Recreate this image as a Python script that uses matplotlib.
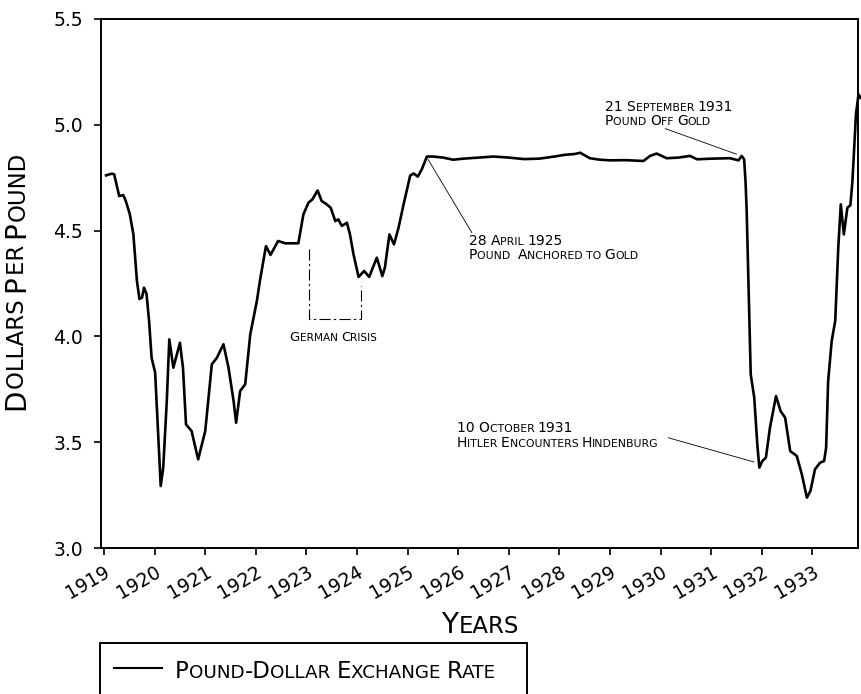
import numpy as np
import matplotlib
matplotlib.use("Agg")
import matplotlib.pyplot as plt
from matplotlib.font_manager import FontProperties
from matplotlib.transforms import offset_copy
from matplotlib.patches import Rectangle
from matplotlib.lines import Line2D

FONT = "DejaVu Sans"
plt.rcParams["font.family"] = FONT

# pound-dollar rate (year fraction, $ per pound)
years = [
    1919.04, 1919.15, 1919.20, 1919.30, 1919.38, 1919.43, 1919.51, 1919.58, 1919.65,
    1919.70, 1919.75, 1919.79, 1919.84, 1919.89, 1919.94, 1920.01, 1920.12, 1920.17,
    1920.24, 1920.29, 1920.37, 1920.50, 1920.56, 1920.62, 1920.73, 1920.86, 1921.00,
    1921.13, 1921.23, 1921.36, 1921.46, 1921.56, 1921.61, 1921.69, 1921.79, 1921.89,
    1922.02, 1922.08, 1922.20, 1922.29, 1922.44, 1922.58, 1922.84, 1922.94, 1923.04,
    1923.12, 1923.22, 1923.30, 1923.40, 1923.48, 1923.57, 1923.63, 1923.70, 1923.80,
    1923.86, 1923.93, 1924.03, 1924.14, 1924.24, 1924.39, 1924.50, 1924.55, 1924.64,
    1924.73, 1924.82, 1924.92, 1925.05, 1925.12, 1925.20, 1925.28, 1925.38, 1925.50,
    1925.70, 1925.90, 1926.10, 1926.40, 1926.70, 1927.00, 1927.30, 1927.60, 1927.90,
    1928.10, 1928.30, 1928.41, 1928.60, 1928.80, 1929.00, 1929.30, 1929.66, 1929.79,
    1929.92, 1930.12, 1930.35, 1930.58, 1930.72, 1931.00, 1931.37, 1931.54, 1931.60,
    1931.65, 1931.68, 1931.70, 1931.75, 1931.78, 1931.85, 1931.91, 1931.95, 1932.01,
    1932.08, 1932.16, 1932.28, 1932.37, 1932.46, 1932.56, 1932.69, 1932.79, 1932.89,
    1932.96, 1933.05, 1933.15, 1933.23, 1933.27, 1933.31, 1933.38, 1933.45, 1933.51,
    1933.56, 1933.62, 1933.69, 1933.75, 1933.79, 1933.86, 1933.91, 1933.95,
]
rates = [
    4.761, 4.769, 4.766, 4.663, 4.668, 4.640, 4.577, 4.482, 4.262,
    4.177, 4.183, 4.230, 4.200, 4.073, 3.899, 3.829, 3.293, 3.380,
    3.695, 3.986, 3.852, 3.970, 3.852, 3.584, 3.553, 3.419, 3.553,
    3.868, 3.899, 3.963, 3.852, 3.695, 3.592, 3.742, 3.774, 4.010,
    4.167, 4.262, 4.427, 4.385, 4.451, 4.440, 4.440, 4.577, 4.632,
    4.648, 4.690, 4.640, 4.624, 4.608, 4.545, 4.553, 4.522, 4.537,
    4.482, 4.388, 4.281, 4.309, 4.281, 4.372, 4.285, 4.325, 4.482,
    4.435, 4.514, 4.624, 4.760, 4.770, 4.755, 4.790, 4.850, 4.850,
    4.845, 4.835, 4.840, 4.845, 4.850, 4.845, 4.838, 4.840, 4.850,
    4.858, 4.862, 4.868, 4.842, 4.835, 4.832, 4.833, 4.829, 4.853,
    4.864, 4.842, 4.845, 4.853, 4.837, 4.840, 4.842, 4.832, 4.853,
    4.837, 4.720, 4.593, 4.104, 3.821, 3.710, 3.490, 3.380, 3.411,
    3.427, 3.569, 3.718, 3.647, 3.616, 3.458, 3.435, 3.348, 3.238,
    3.270, 3.372, 3.403, 3.411, 3.474, 3.789, 3.978, 4.073, 4.419,
    4.624, 4.482, 4.608, 4.620, 4.734, 5.050, 5.144, 5.128,
]

year_ticks = list(range(1919, 1934))
rate_ticks = [3.0, 3.5, 4.0, 4.5, 5.0, 5.5]


def small_caps(ax, x, y, s, size, transform=None, rotation=0, ha="left", ratio=0.8):
    """Fake small caps: lower-case letters drawn as smaller capitals."""
    fig = ax.figure
    renderer = fig.canvas.get_renderer()
    if transform is None:
        transform = ax.transData
    runs = []
    for ch in s:
        small = ch.islower() if ch != " " else (runs[-1][1] if runs else False)
        if runs and runs[-1][1] == small:
            runs[-1][0] += ch
        else:
            runs.append([ch, small])
    pieces = [(t.upper(), size * ratio if sm else size) for t, sm in runs]

    def advance(t, fs):
        prop = FontProperties(family=FONT, size=fs)
        bar = renderer.get_text_width_height_descent("|", prop, ismath=False)[0]
        return renderer.get_text_width_height_descent(t + "|", prop, ismath=False)[0] - bar

    widths = [advance(t, fs) for t, fs in pieces]
    total = sum(widths)
    pos = {"left": 0.0, "center": -total / 2, "right": -total}[ha]
    c, s_ = np.cos(np.radians(rotation)), np.sin(np.radians(rotation))
    for (t, fs), w in zip(pieces, widths):
        tr = offset_copy(transform, fig=fig, x=pos * c, y=pos * s_, units="dots")
        ax.text(x, y, t, fontsize=fs, family=FONT, rotation=rotation,
                rotation_mode="anchor", ha="left", va="baseline", transform=tr,
                clip_on=False)
        pos += w


fig = plt.figure(figsize=(8.61, 6.94), dpi=100)
ax = fig.add_axes([101 / 861, 146 / 694, 757 / 861, 529 / 694])

ax.plot(years, rates, color="black", lw=1.9, clip_on=False,
        label="Pound-Dollar Exchange Rate")

ax.set_xlim(1918.94, 1933.90)
ax.set_ylim(3.0, 5.5)
ax.set_xticks(year_ticks)
ax.set_xticklabels([str(y) for y in year_ticks])
ax.set_yticks(rate_ticks)
ax.set_yticklabels([f"{v:.1f}" for v in rate_ticks])
ax.tick_params(direction="out", length=5, width=1.2, labelsize=13.5)
ax.tick_params(axis="y", pad=8)
ax.tick_params(axis="x", pad=5)
for lab in ax.get_xticklabels():
    lab.set_rotation(30)
    lab.set_ha("right")
    lab.set_rotation_mode("anchor")
for sp in ax.spines.values():
    sp.set_linewidth(1.4)

# German crisis bracket
ax.plot([1923.05, 1923.05, 1924.08, 1924.08], [4.413, 4.082, 4.082, 4.238],
        color="black", lw=0.8, linestyle=(0, (10, 3, 2, 3)))
small_caps(ax, 1923.53, 3.978, "German Crisis", 9.5, ha="center", ratio=0.8)

# leader lines
leader = dict(arrowstyle="-", lw=0.6, color="black", shrinkA=0, shrinkB=0)
ax.annotate("", xy=(1925.40, 4.838), xytext=(1926.27, 4.490), arrowprops=leader)
ax.annotate("", xy=(1931.50, 4.861), xytext=(1930.09, 4.982), arrowprops=leader)
ax.annotate("", xy=(1931.85, 3.406), xytext=(1930.15, 3.521), arrowprops=leader)

# two-line notes, second line one step lower
step = 0.0685
notes = [
    (1926.21, 4.434, "28 April 1925", "Pound  Anchored to Gold"),
    (1928.90, 5.067, "21 September 1931", "Pound Off Gold"),
    (1925.97, 3.546, "10 October 1931", "Hitler Encounters Hindenburg"),
]
for nx, ny, first, second in notes:
    small_caps(ax, nx, ny, first, 10, ratio=0.78)
    small_caps(ax, nx, ny - step, second, 10, ratio=0.78)

# axis titles
small_caps(ax, 24.5 / 861, (694 - 281) / 694, "Dollars Per Pound", 20,
           transform=fig.transFigure, rotation=90, ha="center", ratio=0.82)
small_caps(ax, 480 / 861, (694 - 633) / 694, "Years", 20,
           transform=fig.transFigure, ha="center", ratio=0.82)

# legend box hanging off the bottom edge
fig.add_artist(Rectangle((100 / 861, -0.05), 426.7 / 861, 0.05 + 51 / 694,
                         transform=fig.transFigure, fill=False, lw=1.4, color="black"))
fig.add_artist(Line2D([114 / 861, 162 / 861], [26 / 694, 26 / 694],
                      transform=fig.transFigure, color="black", lw=1.5))
small_caps(ax, 175 / 861, 16 / 694, ax.get_lines()[0].get_label(), 16.5,
           transform=fig.transFigure, ratio=0.8)

fig.savefig("out.png", dpi=100)
